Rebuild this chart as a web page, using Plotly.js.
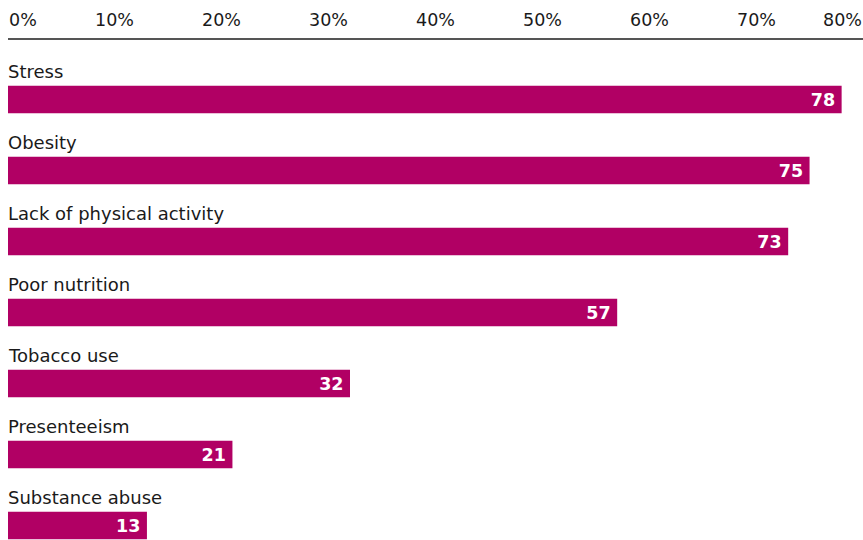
<!DOCTYPE html>
<html>
<head>
<meta charset="utf-8">
<script src="https://cdn.plot.ly/plotly-3.0.1.min.js"></script>
<style>html,body{margin:0;padding:0;background:#fff;}#chart{width:863px;height:540px;}</style>
</head>
<body>
<div id="chart"></div>
<script>
const categories = ["Stress", "Obesity", "Lack of physical activity", "Poor nutrition", "Tobacco use", "Presenteeism", "Substance abuse"];
const values = [78, 75, 73, 57, 32, 21, 13];
const tickValues = [0, 10, 20, 30, 40, 50, 60, 70, 80];
const tickLabels = ["0%", "10%", "20%", "30%", "40%", "50%", "60%", "70%", "80%"];

const font = "DejaVu Sans, Verdana, sans-serif";
const idx = categories.map((c, i) => i);

const trace = {
  type: "bar",
  orientation: "h",
  x: values,
  y: idx,
  width: 0.39,
  marker: {color: "#b10064"},
  text: values.map(v => String(v) + "\u2009"),
  textposition: "inside",
  insidetextanchor: "end",
  textangle: 0,
  textfont: {family: font, size: 17.5, color: "#ffffff", weight: "bold"},
  hoverinfo: "skip",
  cliponaxis: false
};

const annotations = [];
categories.forEach((c, i) => {
  annotations.push({
    text: c, xref: "paper", yref: "y", x: 0, y: i - 0.40,
    xanchor: "left", yanchor: "middle", xshift: -1.5, showarrow: false, borderpad: 0,
    font: {family: font, size: 18, color: "#1a1a1a"}
  });
});
tickValues.forEach((t, i) => {
  let anchor = "center";
  if (i === 0) anchor = "left";
  if (i === tickValues.length - 1) anchor = "right";
  annotations.push({
    text: tickLabels[i], xref: "x", yref: "paper", x: t, y: 1,
    xanchor: anchor, yanchor: "bottom", yshift: 9, showarrow: false, borderpad: 0,
    font: {family: font, size: 17.5, color: "#1a1a1a"}
  });
});

const layout = {
  width: 863, height: 540,
  margin: {l: 8, r: 0, t: 40, b: 0, pad: 0},
  paper_bgcolor: "#ffffff", plot_bgcolor: "#ffffff",
  showlegend: false,
  xaxis: {
    range: [0, 80], side: "top", showgrid: false, zeroline: false,
    showline: true, linecolor: "#555555", linewidth: 2,
    showticklabels: false, ticks: "", fixedrange: true
  },
  yaxis: {
    range: [6.204, -0.838], showgrid: false, zeroline: false,
    showline: false, showticklabels: false, ticks: "", fixedrange: true
  },
  annotations: annotations
};

Plotly.newPlot("chart", [trace], layout, {displayModeBar: false, staticPlot: true});
</script>
</body>
</html>
